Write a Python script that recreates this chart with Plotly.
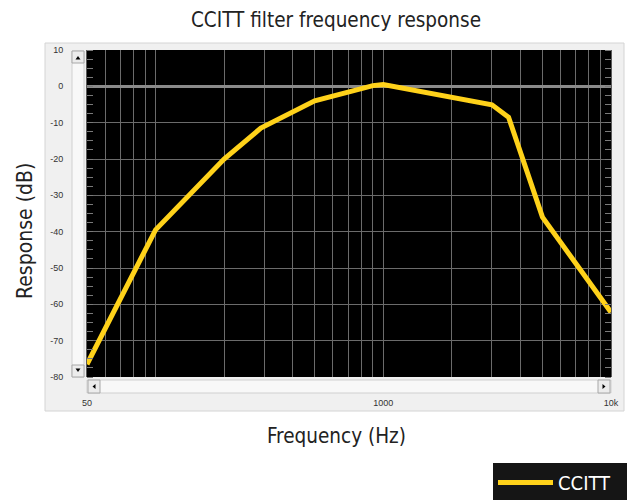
import math
import plotly.graph_objects as go

# ---- data ----
freq_hz = [50, 100, 200, 290, 500, 900, 1000, 2000, 3000, 3550, 5000, 10000]
response_db = [-76.5, -39.5, -20.0, -11.5, -4.0, 0.2, 0.5, -3.2, -5.1, -8.5, -36.0, -62.2]
series_name = "CCITT"

x_tick_vals = [50, 1000, 10000]
x_tick_text = ["50", "1000", "10k"]
x_minor_vals = [60, 70, 80, 90, 100, 200, 300, 400, 500, 600, 700, 800, 900,
                2000, 3000, 4000, 5000, 6000, 7000, 8000, 9000]
y_tick_vals = [10, 0, -10, -20, -30, -40, -50, -60, -70, -80]
y_tick_text = [str(v) for v in y_tick_vals]

title_text = "CCITT filter frequency response"
x_title = "Frequency (Hz)"
y_title = "Response (dB)"

# ---- layout geometry (pixels) ----
FW, FH = 627, 500
L, R, T, B = 87, 611, 50, 377
W, H = R - L, B - T

def px(x):
    return (x - L) / W

def py(y):
    return (B - y) / H

COND = "Liberation Sans Narrow, DejaVu Sans Condensed, Arial Narrow, sans-serif"
SMALL = "Liberation Sans, Arial, sans-serif"
YELLOW = "#FFD21A"
GRID = "#6b6b6b"

fig = go.Figure()
fig.add_trace(go.Scatter(
    x=freq_hz, y=response_db, mode="lines", name=series_name,
    line=dict(color=YELLOW, width=5),
))

shapes = []
def rect(x0, y0, x1, y1, fill, line_color=None, lw=1):
    shapes.append(dict(
        type="rect", xref="paper", yref="paper", layer="below",
        x0=px(x0), x1=px(x1), y0=py(y1), y1=py(y0),
        fillcolor=fill,
        line=dict(color=line_color or fill, width=lw if line_color else 0),
    ))

def tri(points, fill="#000000"):
    p = "M " + " L ".join(f"{px(a)},{py(b)}" for a, b in points) + " Z"
    shapes.append(dict(type="path", xref="paper", yref="paper", layer="above",
                       path=p, fillcolor=fill, line=dict(width=0)))

# gray instrument panel
rect(45, 43, 624, 411, "#f0f0f0", "#d4d4d4", 1)
# black plotting area
rect(L, T, R, B, "#000000")
# vertical scrollbar
rect(72, 51, 84, B, "#f8f8f8", "#d0d0d0", 1)
rect(72, 51, 84, 63, "#ececec", "#a8a8a8", 1)
rect(72, 365, 84, B, "#ececec", "#a8a8a8", 1)
# horizontal scrollbar
rect(L, 380, R, 393, "#f8f8f8", "#d0d0d0", 1)
rect(88, 380, 100, 393, "#ececec", "#a8a8a8", 1)
rect(598, 380, 610, 393, "#ececec", "#a8a8a8", 1)
# arrows
tri([(75.5, 59.5), (80.5, 59.5), (78, 56)])
tri([(75.5, 368.5), (80.5, 368.5), (78, 372)])
tri([(95.5, 384), (95.5, 389), (92.5, 386.5)])
tri([(602.5, 384), (602.5, 389), (605.5, 386.5)])

annotations = [
    dict(text=x_title, xref="paper", yref="paper", x=px(336), y=py(436),
         xanchor="center", yanchor="middle", showarrow=False,
         font=dict(family=COND, size=20.5, color="#222222")),
    dict(text=y_title, xref="paper", yref="paper", x=px(25), y=py(231),
         xanchor="center", yanchor="middle", showarrow=False, textangle=-90,
         font=dict(family=COND, size=21, color="#222222")),
]

fig.update_layout(
    width=FW, height=FH,
    margin=dict(l=L, r=FW - R, t=T, b=FH - B, autoexpand=False),
    paper_bgcolor="#ffffff",
    plot_bgcolor="rgba(0,0,0,0)",
    title=dict(text=title_text, x=336 / FW, xanchor="center", xref="container",
               y=1 - 20 / FH, yanchor="middle", yref="container",
               font=dict(family=COND, size=20.5, color="#222222")),
    shapes=shapes,
    annotations=annotations,
    showlegend=True,
    legend=dict(
        x=px(638), xanchor="right", y=py(502), yanchor="bottom",
        bgcolor="#151515", borderwidth=0,
        font=dict(family=COND, size=20, color="#ffffff"),
        orientation="h", itemwidth=55, entrywidth=75, entrywidthmode="pixels",
    ),
    xaxis=dict(
        type="log",
        range=[math.log10(50), 4],
        tickmode="array", tickvals=x_tick_vals, ticktext=x_tick_text,
        ticks="outside", ticklen=17, tickcolor="rgba(0,0,0,0)",
        tickfont=dict(family=SMALL, size=9, color="#333333"),
        showgrid=True, gridcolor=GRID, gridwidth=1,
        minor=dict(tickmode="array", tickvals=x_minor_vals, showgrid=True,
                   gridcolor=GRID, gridwidth=1, ticks=""),
        showline=False, zeroline=False, automargin=False,
    ),
    yaxis=dict(
        range=[-80, 10],
        tickmode="array", tickvals=y_tick_vals, ticktext=y_tick_text,
        ticks="outside", ticklen=21, tickcolor="rgba(0,0,0,0)",
        tickfont=dict(family=SMALL, size=9, color="#333333"),
        showgrid=True, gridcolor=GRID, gridwidth=1,
        zeroline=True, zerolinecolor="#8a8a8a", zerolinewidth=3,
        minor=dict(dtick=2.5, ticks="inside", ticklen=6, tickcolor="#7a7a7a",
                   tickwidth=1, showgrid=False),
        showline=True, linecolor="#5a5a5a", linewidth=1, mirror="ticks",
        automargin=False,
    ),
)

fig.write_html("out.html", config={"displayModeBar": False},
               post_script="document.body.style.margin='0';")
